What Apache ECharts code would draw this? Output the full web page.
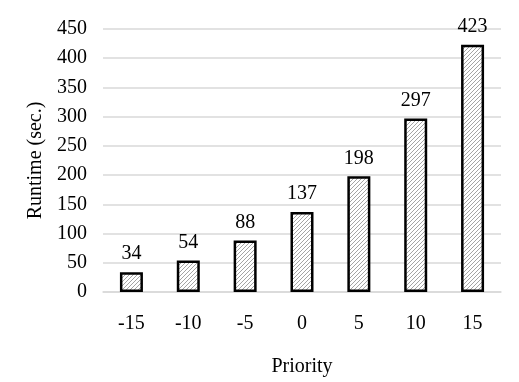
<!DOCTYPE html>
<html><head><meta charset="utf-8">
<script src="https://cdn.jsdelivr.net/npm/echarts@6/dist/echarts.min.js"></script>
<style>html,body{margin:0;padding:0;background:#fff}#c{width:519px;height:382px}</style>
</head><body><div id="c"></div>
<script>
const categories = ['-15','-10','-5','0','5','10','15'];
const runtimes = [34, 54, 88, 137, 198, 297, 423];
const yTicks = [0, 50, 100, 150, 200, 250, 300, 350, 400, 450];

function hatch() {
  const s = 4;
  const c = document.createElement('canvas');
  c.width = s; c.height = s;
  const g = c.getContext('2d');
  g.fillStyle = '#fff'; g.fillRect(0,0,s,s);
  g.strokeStyle = '#9a9a9a'; g.lineWidth = 0.9;
  g.beginPath();
  g.moveTo(0,s); g.lineTo(s,0);
  g.moveTo(-s/2,s/2); g.lineTo(s/2,-s/2);
  g.moveTo(s/2,s*1.5); g.lineTo(s*1.5,s/2);
  g.stroke();
  return c;
}
const font = 'Liberation Serif';
const chart = echarts.init(document.getElementById('c'));
chart.setOption({
  animation: false,
  grid: {left: 103, right: 18, top: 29, bottom: 85},
  xAxis: {
    type: 'category', data: categories,
    axisLine: {lineStyle: {color: '#d9d9d9', width: 1.5}},
    axisTick: {show: false},
    axisLabel: {fontFamily: font, fontSize: 20, color: '#000', margin: 22},
    name: 'Priority', nameLocation: 'middle', nameGap: 65,
    nameTextStyle: {fontFamily: font, fontSize: 20, color: '#000'}
  },
  yAxis: {
    type: 'value', min: yTicks[0], max: yTicks[yTicks.length-1], interval: 50,
    axisLine: {show: false}, axisTick: {show: false},
    splitLine: {lineStyle: {color: '#d9d9d9', width: 1.5}},
    axisLabel: {fontFamily: font, fontSize: 20, color: '#000', margin: 16, padding: [5, 0, 0, 0]},
    name: 'Runtime (sec.)', nameLocation: 'middle', nameGap: 57, nameRotate: 90,
    nameTextStyle: {fontFamily: font, fontSize: 20, color: '#000', padding: [0, 0, 0, 0]}
  },
  series: [{
    type: 'bar', data: runtimes, barWidth: 23,
    itemStyle: {color: {image: hatch(), repeat: 'repeat'}, borderColor: '#000', borderWidth: 2.5},
    label: {show: true, position: 'top', distance: 8, fontFamily: font, fontSize: 20, color: '#000'}
  }]
});
</script></body></html>
